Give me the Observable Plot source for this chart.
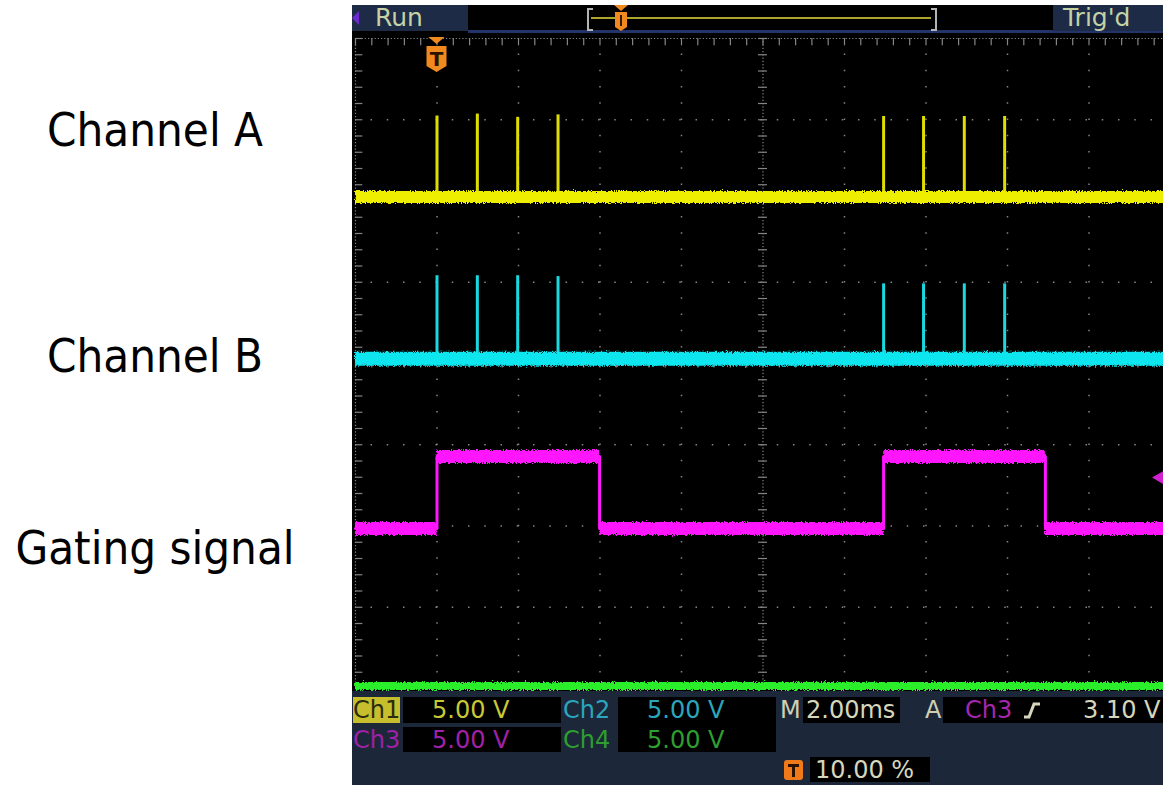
<!DOCTYPE html>
<html><head><meta charset="utf-8">
<script src="https://cdn.jsdelivr.net/npm/d3@7"></script>
<script src="https://cdn.jsdelivr.net/npm/@observablehq/plot@0.6"></script>
<style>
html,body{margin:0;padding:0;background:#fff;}
#root{position:relative;width:1163px;height:785px;overflow:hidden;background:#fff;}
.a{position:absolute;white-space:nowrap;}
.lab{position:absolute;font-family:"DejaVu Sans Condensed","DejaVu Sans",sans-serif;font-size:47px;line-height:48px;color:#000;white-space:nowrap;transform:translateX(-50%);}
.st{font-family:"DejaVu Sans",sans-serif;font-size:24px;line-height:26px;}
.box{position:absolute;background:#000;}
</style></head><body><div id="root"></div>
<script>
// ---- scope settings / data ----
const timeRange = [-2, 18];          // ms across 10 divisions (2 ms/div, trigger at 10%)
const voltsPerDiv = 5;
const divisionsY = 8;
const triggerTime = 0;
const ch1GroundDiv = 2.05, ch2GroundDiv = 0.06, ch3GroundDiv = -2.03, ch4GroundDiv = -3.97;

// Channel A (Ch1) spikes
const spikeTimesA = [0, 0.99, 1.98, 2.97, 10.96, 11.94, 12.94, 13.93];
const spikeHeightsA = [4.98, 5.1, 4.9, 5.05, 4.95, 4.95, 4.95, 4.95];
// Channel B (Ch2) spikes
const spikeTimesB = [0, 0.99, 1.98, 2.97, 10.96, 11.94, 12.94, 13.93];
const spikeHeightsB = [5.1, 5.1, 5.1, 5.05, 4.6, 4.6, 4.6, 4.6];
// Gating signal (Ch3)
const gateRise = [0, 10.96];
const gateFall = [3.99, 14.93];
const gateHigh = 4.43, gateLow = 0;
const ch3TriggerLevel = 3.10;
// Ch4 flat
const ch4Level = 0;

const colA = "#eeee00", colB = "#10e6ee", colG = "#ff16ff", col4 = "#2cee2c";

// ---- derived ----
const yA = v => v + ch1GroundDiv * voltsPerDiv;
const yB = v => v + ch2GroundDiv * voltsPerDiv;
const yG = v => v + ch3GroundDiv * voltsPerDiv;
const y4 = v => v + ch4GroundDiv * voltsPerDiv;
const spikesA = spikeTimesA.map((t, i) => ({t, h: spikeHeightsA[i]}));
const spikesB = spikeTimesB.map((t, i) => ({t, h: spikeHeightsB[i]}));
const gatePts = [{t: timeRange[0], v: gateLow}];
const gateSegs = [];
let prev = timeRange[0];
gateRise.forEach((r, i) => {
  const f = gateFall[i];
  gatePts.push({t: r, v: gateLow}, {t: r, v: gateHigh}, {t: f, v: gateHigh}, {t: f, v: gateLow});
  gateSegs.push({a: prev, b: r, v: gateLow}, {a: r, b: f, v: gateHigh});
  prev = f;
});
gatePts.push({t: timeRange[1], v: gateLow});
gateSegs.push({a: prev, b: timeRange[1], v: gateLow});

const yMax = divisionsY / 2 * voltsPerDiv;
const majorX = d3.range(timeRange[0], timeRange[1] + 1e-6, 2);
const majorY = d3.range(-yMax, yMax + 1e-6, voltsPerDiv);
const minorX = d3.range(timeRange[0], timeRange[1] + 1e-6, 0.4);
const minorY = d3.range(-yMax, yMax + 1e-6, 1);
const centerT = (timeRange[0] + timeRange[1]) / 2;
const gridCol = "#858585";

const chart = Plot.plot({
  width: 1170, height: 785,
  marginLeft: 355, marginRight: 0, marginTop: 38, marginBottom: 97,
  x: {domain: timeRange, axis: null},
  y: {domain: [-yMax, yMax], axis: null},
  style: {background: "transparent", maxWidth: "none", overflow: "visible"},
  marks: [
    // dotted graticule
    Plot.ruleX(majorX.filter(d => d !== centerT && d !== timeRange[0]), {stroke: gridCol, strokeWidth: 1.5, strokeDasharray: "1.5 14.75", strokeDashoffset: 0.75}),
    Plot.ruleY(majorY.filter(d => d !== 0 && d !== yMax), {stroke: gridCol, strokeWidth: 1.5, strokeDasharray: "1.5 14.75", strokeDashoffset: 0.75}),
    // center cross and frame edges
    Plot.ruleX([centerT, timeRange[0]], {stroke: gridCol, strokeWidth: 1.2, strokeDasharray: "1.2 2.05"}),
    Plot.ruleY([0, yMax], {stroke: gridCol, strokeWidth: 1.2, strokeDasharray: "1.2 2.05"}),
    Plot.ruleX(minorX, {y1: -0.28, y2: 0.28, stroke: gridCol, strokeWidth: 1.2}),
    Plot.ruleY(minorY, {x1: centerT - 0.11, x2: centerT + 0.11, stroke: gridCol, strokeWidth: 1.2}),
    Plot.ruleX(minorX, {y1: yMax, y2: yMax - 0.45, stroke: gridCol, strokeWidth: 1.2}),
    Plot.ruleY(minorY, {x1: timeRange[0], x2: timeRange[0] + 0.18, stroke: gridCol, strokeWidth: 1.2}),
    // Ch4 (green)
    Plot.ruleY([ch4Level], {y: y4, stroke: col4, strokeWidth: 8}),
    // Gating signal (Ch3)
    Plot.line(gatePts, {x: "t", y: d => yG(d.v), stroke: colG, strokeWidth: 3}),
    Plot.ruleY(gateSegs, {x1: "a", x2: "b", y: d => yG(d.v), stroke: colG, strokeWidth: 13}),
    // Channel B (Ch2)
    Plot.ruleX(spikesB, {x: "t", y1: yB(0), y2: d => yB(d.h), stroke: "#18d8e0", strokeWidth: 3}),
    Plot.ruleY([0], {y: yB, stroke: colB, strokeWidth: 14}),
    // Channel A (Ch1)
    Plot.ruleX(spikesA, {x: "t", y1: yA(0), y2: d => yA(d.h), stroke: "#dede00", strokeWidth: 3}),
    Plot.ruleY([0], {y: yA, stroke: colA, strokeWidth: 12}),
    // trigger position marker and trigger level arrow
    (index, scales, values, dims) => {
      const g = d3.create("svg:g");
      const cx = scales.x(triggerTime);
      const top = dims.marginTop;
      g.append("path").attr("d", `M${cx-8},${top-1}L${cx+8},${top-1}L${cx},${top+6}Z`).attr("fill", "#f08a1e");
      g.append("path").attr("d", `M${cx-10},${top+8}H${cx+10}V${top+28}L${cx},${top+34}L${cx-10},${top+28}Z`).attr("fill", "#f08a1e");
      g.append("text").attr("x", cx).attr("y", top + 28).attr("text-anchor", "middle")
        .attr("font-family", "DejaVu Sans").attr("font-weight", "bold").attr("font-size", 20).attr("fill", "#2a1400").text("T");
      const ty = scales.y(yG(ch3TriggerLevel));
      g.append("path").attr("d", `M${1152},${ty}L${1164},${ty-7}L${1164},${ty+7}Z`).attr("fill", "#d020d0");
      return g.node();
    }
  ]
});
chart.style.position = "absolute";
chart.style.left = "0px";
chart.style.top = "0px";
chart.style.maxWidth = "none";

// noisy-trace look: jagged band edges
const svg = d3.select(chart);
const defs = svg.insert("defs", ":first-child");
const flt = defs.append("filter").attr("id", "fuzz").attr("filterUnits", "userSpaceOnUse")
  .attr("x", 0).attr("y", 0).attr("width", 1170).attr("height", 785);
flt.append("feTurbulence").attr("type", "fractalNoise").attr("baseFrequency", "0.9 0.7").attr("numOctaves", 2).attr("seed", 4).attr("result", "n");
flt.append("feDisplacementMap").attr("in", "SourceGraphic").attr("in2", "n").attr("scale", 5).attr("xChannelSelector", "R").attr("yChannelSelector", "G");
svg.selectAll('g[aria-label="rule"]').filter(function() { return +this.getAttribute("stroke-width") >= 7; }).attr("filter", "url(#fuzz)");

const root = document.getElementById("root");
const screen = document.createElement("div");
screen.className = "a";
Object.assign(screen.style, {left: "352px", top: "5px", width: "811px", height: "780px", background: "#000"});
root.appendChild(screen);
root.appendChild(chart);

const chrome = document.createElement("div");
chrome.innerHTML = `
<div class="a" style="left:352px;top:5px;width:116px;height:26px;background:#1d2b47"></div>
<div class="a" style="left:352px;top:11px;width:0;height:0;border-top:7px solid transparent;border-bottom:7px solid transparent;border-right:7px solid #6a2ad0"></div>
<div class="a st" style="left:375px;top:4px;font-size:25px;line-height:28px;color:#c4d2a4">Run</div>
<div class="a" style="left:468px;top:30px;width:695px;height:3px;background:#22346a"></div>
<div class="a" style="left:587px;top:8px;width:4px;height:19px;border:2px solid #b4b4b4;border-right:none"></div>
<div class="a" style="left:591px;top:17px;width:340px;height:2px;background:#aea62c"></div>
<div class="a" style="left:931px;top:8px;width:4px;height:19px;border:2px solid #b4b4b4;border-left:none"></div>
<svg class="a" style="left:612px;top:5px" width="18" height="27"><path d="M2,0H16L9,6Z" fill="#f08a1e"/><path d="M3,7H15V22L9,26L3,22Z" fill="#f08a1e"/><rect x="8" y="10" width="2" height="11" fill="#3a1a00"/></svg>
<div class="a" style="left:1053px;top:5px;width:110px;height:26px;background:#1d2b47"></div>
<div class="a st" style="left:1063px;top:4px;font-size:25px;line-height:28px;color:#c4d2a4">Trig'd</div>

<div class="a" style="left:352px;top:691px;width:811px;height:94px;background:#1c2839"></div>
<div class="a st" style="left:353px;top:697px;width:47px;height:26px;background:#c6be2c;color:#2a2a10">Ch1</div>
<div class="box" style="left:403px;top:697px;width:158px;height:26px"></div>
<div class="a st" style="left:432px;top:697px;color:#c8c834">5.00 V</div>
<div class="a st" style="left:563px;top:697px;color:#2aa6bc">Ch2</div>
<div class="box" style="left:618px;top:697px;width:158px;height:55px"></div>
<div class="a st" style="left:647px;top:697px;color:#2aa6bc">5.00 V</div>
<div class="a st" style="left:780px;top:697px;color:#cfcfb4">M</div>
<div class="box" style="left:803px;top:697px;width:97px;height:26px"></div>
<div class="a st" style="left:806px;top:697px;color:#d6d6bc">2.00ms</div>
<div class="a st" style="left:925px;top:697px;color:#cfcfb4">A</div>
<div class="box" style="left:943px;top:697px;width:220px;height:26px"></div>
<div class="a st" style="left:965px;top:697px;color:#a626b0">Ch3</div>
<svg class="a" style="left:1022px;top:701px" width="20" height="18"><path d="M2,16 L7,16 L12,3 L18,3" fill="none" stroke="#d6d6bc" stroke-width="3"/></svg>
<div class="a st" style="left:1083px;top:697px;color:#d6d6bc">3.10 V</div>
<div class="a st" style="left:353px;top:727px;color:#a020a8">Ch3</div>
<div class="box" style="left:403px;top:727px;width:158px;height:25px"></div>
<div class="a st" style="left:432px;top:727px;color:#a020a8">5.00 V</div>
<div class="a st" style="left:563px;top:727px;color:#2e9e2e">Ch4</div>
<div class="a st" style="left:647px;top:727px;color:#2e9e2e">5.00 V</div>
<svg class="a" style="left:784px;top:760px" width="20" height="20"><rect x="0" y="0" width="19" height="20" rx="3" fill="#f07a1a"/><path d="M4,4H15V7H11V17H8V7H4Z" fill="#2a1200"/></svg>
<div class="box" style="left:810px;top:757px;width:120px;height:25px"></div>
<div class="a st" style="left:815px;top:757px;color:#d6d6bc">10.00 %</div>

<div class="lab" style="left:155px;top:106px">Channel A</div>
<div class="lab" style="left:155px;top:332px">Channel B</div>
<div class="lab" style="left:155px;top:524px">Gating signal</div>
`;
root.appendChild(chrome);
</script></body></html>
